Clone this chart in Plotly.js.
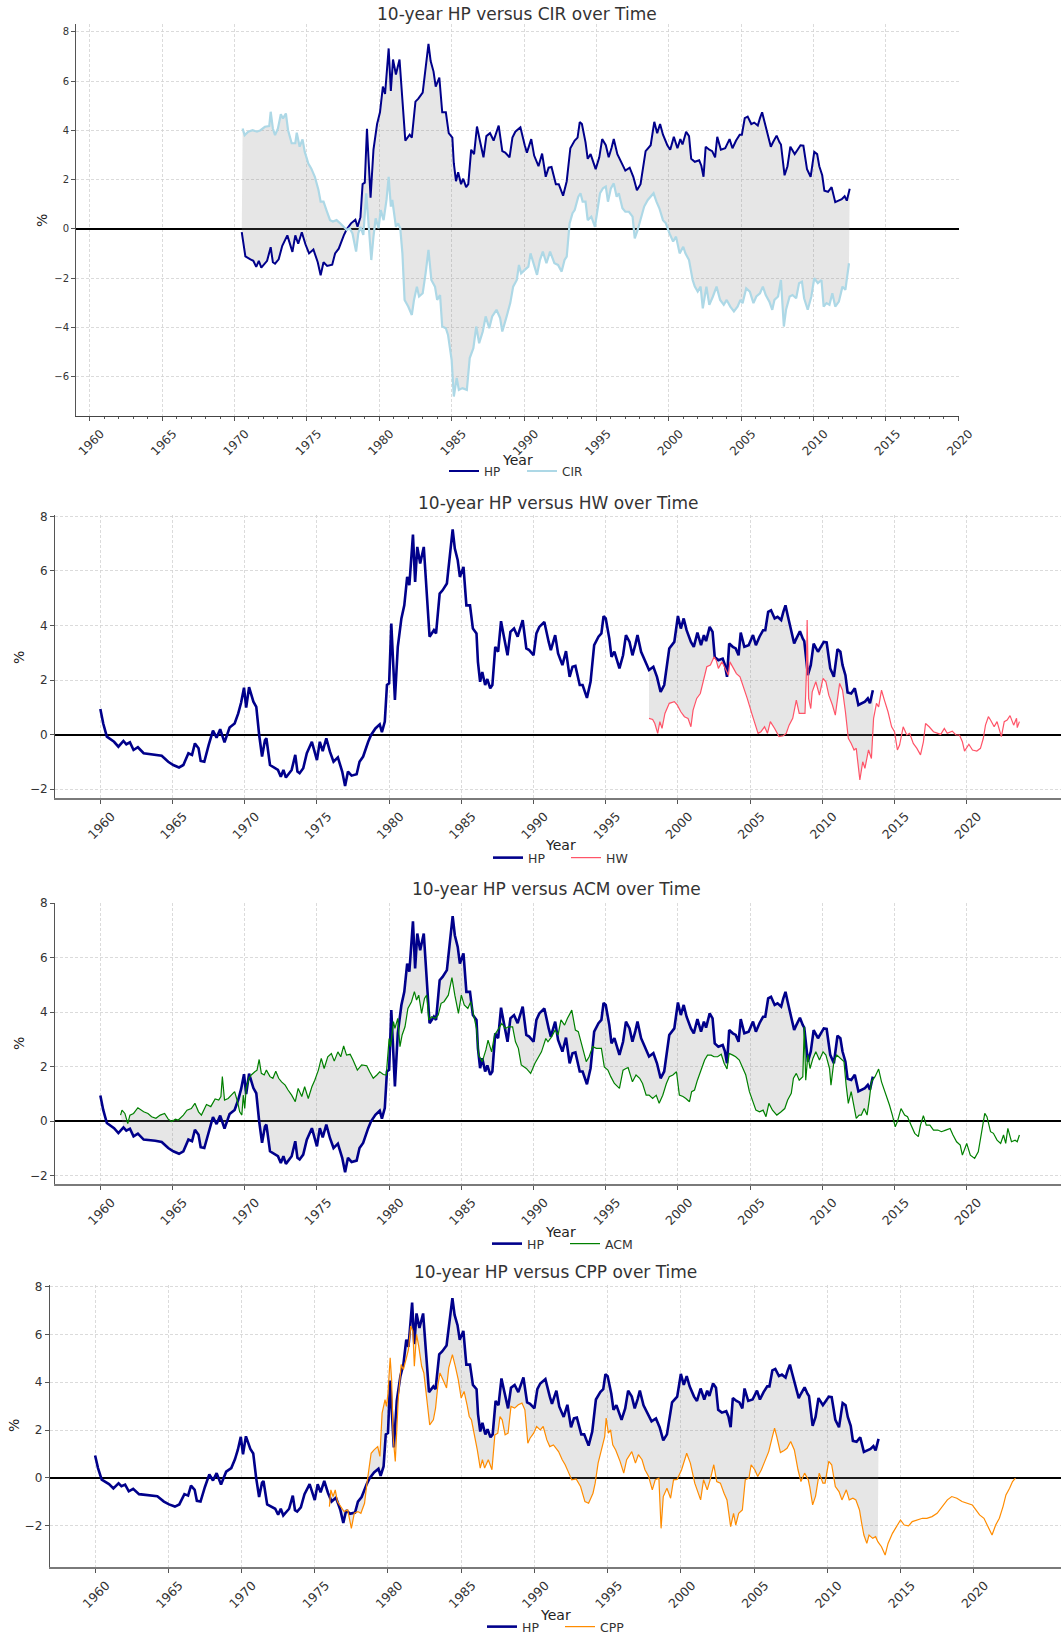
<!DOCTYPE html>
<html><head><meta charset="utf-8">
<script src="https://cdn.plot.ly/plotly-3.0.1.min.js"></script>
<style>html,body{margin:0;padding:0;background:#fff;overflow:hidden}#chart{width:1061px;height:1633px}</style>
</head><body><div id="chart"></div>
<script>
// ---------------- DATA ----------------
const hpYear = [1960.0,1960.2,1960.45,1960.7,1960.95,1961.25,1961.6,1961.8,1962.05,1962.3,1962.6,1963.0,1963.8,1964.25,1964.7,1965.05,1965.45,1965.75,1966.1,1966.35,1966.55,1966.8,1966.95,1967.2,1967.5,1967.8,1968.05,1968.3,1968.6,1968.95,1969.3,1969.55,1969.75,1969.95,1970.1,1970.3,1970.6,1970.8,1971.0,1971.2,1971.4,1971.5,1971.75,1972.1,1972.3,1972.5,1972.68,1972.85,1973.25,1973.5,1973.65,1973.8,1974.05,1974.3,1974.65,1975.0,1975.2,1975.4,1975.65,1975.9,1976.15,1976.45,1976.75,1976.95,1977.15,1977.4,1977.75,1977.95,1978.2,1978.55,1978.75,1979.05,1979.35,1979.5,1979.7,1979.85,1980.0,1980.15,1980.3,1980.4,1980.6,1980.85,1981.05,1981.25,1981.4,1981.65,1981.8,1981.95,1982.15,1982.4,1982.6,1982.8,1983.1,1983.25,1983.5,1983.7,1984.0,1984.2,1984.4,1984.55,1984.75,1984.9,1985.15,1985.35,1985.6,1985.8,1986.05,1986.15,1986.3,1986.45,1986.65,1986.8,1987.0,1987.15,1987.35,1987.55,1987.75,1987.95,1988.2,1988.4,1988.65,1988.9,1989.25,1989.5,1989.7,1990.0,1990.2,1990.4,1990.75,1991.05,1991.2,1991.5,1991.7,1992.0,1992.25,1992.5,1992.7,1992.9,1993.2,1993.4,1993.7,1993.95,1994.2,1994.5,1994.7,1994.85,1995.0,1995.25,1995.4,1995.6,1995.95,1996.2,1996.4,1996.65,1996.85,1997.05,1997.2,1997.45,1997.8,1998.0,1998.3,1998.55,1998.8,1999.05,1999.4,1999.75,2000.0,2000.2,2000.4,2000.6,2000.9,2001.1,2001.35,2001.6,2001.8,2001.95,2002.2,2002.4,2002.55,2002.8,2003.1,2003.25,2003.4,2003.55,2003.8,2004.0,2004.2,2004.35,2004.6,2004.9,2005.2,2005.4,2005.65,2005.9,2006.05,2006.25,2006.45,2006.7,2006.9,2007.15,2007.3,2007.45,2007.6,2007.85,2008.05,2008.2,2008.45,2008.65,2008.75,2009.0,2009.2,2009.4,2009.7,2009.9,2010.1,2010.3,2010.55,2010.8,2011.05,2011.25,2011.4,2011.6,2011.75,2012.0,2012.25,2012.5,2012.7,2012.95,2013.15,2013.3,2013.5];
const hpValue = [0.94,0.41,-0.07,-0.17,-0.26,-0.44,-0.23,-0.35,-0.28,-0.56,-0.46,-0.68,-0.72,-0.77,-0.99,-1.11,-1.2,-1.11,-0.68,-0.74,-0.32,-0.5,-0.96,-0.99,-0.38,0.15,-0.11,0.2,-0.28,0.26,0.41,0.78,1.18,1.72,0.99,1.74,1.21,1.02,-0.01,-0.8,-0.2,-0.13,-1.11,-1.23,-1.29,-1.54,-1.29,-1.57,-1.29,-0.74,-1.35,-1.41,-1.23,-0.68,-0.26,-0.93,-0.26,-0.6,-0.13,-0.62,-0.99,-0.83,-1.35,-1.88,-1.35,-1.5,-1.45,-0.99,-0.8,-0.26,-0.01,0.23,0.38,0.09,0.48,1.82,1.88,4.07,2.55,1.27,3.22,4.26,4.74,5.78,5.48,7.33,5.6,6.88,6.27,6.88,5.23,3.59,3.83,3.71,5.17,5.29,5.54,6.45,7.52,6.82,6.39,5.78,6.15,4.74,4.74,3.89,3.71,2.67,1.94,2.3,1.82,2.04,1.7,1.82,3.22,3.04,4.16,3.59,2.91,3.77,3.89,3.59,4.2,3.16,3.1,2.91,3.71,3.95,4.13,3.4,3.1,3.65,2.98,2.55,3.06,2.12,2.49,2.52,1.82,1.82,1.35,1.94,3.28,3.59,3.71,4.34,4.26,3.52,2.85,3.04,2.43,2.91,3.65,3.4,2.91,3.3,3.65,3.04,2.57,2.37,2.49,2.12,1.57,1.82,3.16,3.4,4.35,3.89,4.26,3.83,3.4,3.22,3.74,3.28,3.65,3.43,3.95,3.77,2.85,2.73,2.79,2.57,2.12,3.34,3.22,3.16,2.91,3.74,3.22,3.28,3.65,3.28,3.59,3.83,3.83,4.5,4.56,4.26,4.32,4.2,4.5,4.74,4.38,3.77,3.34,3.52,3.79,3.52,3.43,2.18,2.55,3.34,3.04,3.22,3.4,3.38,2.43,2.12,3.13,3.04,2.55,2.18,1.55,1.51,1.7,1.09,1.15,1.21,1.33,1.15,1.63];

const cirYear = [1970.56,1970.7,1970.95,1971.25,1971.55,1971.8,1972.1,1972.4,1972.5,1972.65,1972.8,1973.0,1973.2,1973.35,1973.55,1973.7,1973.95,1974.2,1974.3,1974.5,1974.7,1974.85,1975.1,1975.3,1975.55,1975.8,1975.95,1976.15,1976.35,1976.6,1976.8,1977.05,1977.3,1977.5,1977.75,1977.95,1978.15,1978.4,1978.55,1978.7,1978.9,1979.1,1979.25,1979.45,1979.6,1979.75,1979.95,1980.1,1980.3,1980.4,1980.5,1980.65,1980.8,1980.9,1981.15,1981.3,1981.45,1981.6,1981.75,1982.0,1982.25,1982.4,1982.6,1982.75,1983.0,1983.2,1983.4,1983.6,1983.85,1984.0,1984.2,1984.35,1984.6,1984.75,1985.0,1985.15,1985.35,1985.5,1985.75,1986.05,1986.25,1986.5,1986.7,1986.9,1987.15,1987.35,1987.6,1987.8,1988.1,1988.35,1988.5,1988.8,1989.05,1989.25,1989.5,1989.65,1989.8,1990.05,1990.3,1990.45,1990.65,1990.9,1991.1,1991.3,1991.55,1991.8,1992.1,1992.35,1992.6,1992.8,1992.95,1993.15,1993.35,1993.5,1993.75,1993.9,1994.05,1994.25,1994.4,1994.65,1994.9,1995.1,1995.25,1995.45,1995.65,1995.8,1996.0,1996.2,1996.4,1996.55,1996.8,1997.0,1997.25,1997.5,1997.65,1997.85,1998.1,1998.3,1998.55,1998.8,1998.95,1999.15,1999.35,1999.6,1999.8,2000.05,2000.3,2000.5,2000.75,2001.0,2001.15,2001.4,2001.65,2001.8,2002.0,2002.2,2002.35,2002.6,2002.8,2003.05,2003.3,2003.55,2003.8,2004.0,2004.25,2004.5,2004.75,2004.95,2005.1,2005.35,2005.6,2005.85,2006.05,2006.3,2006.5,2006.7,2006.95,2007.15,2007.3,2007.55,2007.75,2007.95,2008.1,2008.35,2008.55,2008.8,2009.0,2009.2,2009.35,2009.6,2009.85,2010.05,2010.3,2010.55,2010.7,2010.9,2011.1,2011.3,2011.5,2011.75,2012.0,2012.2,2012.4,2012.45];
const cirValue = [4.08,3.81,3.95,4.01,3.95,4.01,4.15,4.18,4.76,4.08,3.81,4.08,4.66,4.49,4.69,4.01,3.48,3.48,3.91,3.34,3.64,3.14,2.66,2.46,2.12,1.58,1.11,1.11,0.77,0.36,0.3,0.36,0.23,0.09,-0.04,0.03,-0.18,-0.92,-0.18,0.09,-0.24,1.45,0.36,-1.26,-0.31,0.43,0.03,0.77,0.36,0.77,1.18,2.12,0.91,1.18,0.09,0.23,0.03,-0.99,-2.88,-3.15,-3.49,-2.88,-2.34,-2.74,-2.61,-1.8,-0.85,-2.07,-2.34,-2.88,-2.68,-3.96,-4.03,-4.3,-5.31,-6.8,-6.05,-6.53,-6.46,-6.53,-5.24,-4.84,-3.96,-4.64,-4.16,-3.55,-4.03,-3.55,-3.28,-3.62,-4.16,-3.55,-3.01,-2.34,-2.07,-1.46,-1.8,-1.66,-1.53,-0.99,-1.39,-1.86,-1.26,-0.92,-1.39,-0.92,-1.39,-1.46,-1.73,-1.26,-1.12,0.23,0.64,0.77,1.31,1.45,1.11,1.11,0.36,0.5,0.09,0.91,1.45,1.65,1.72,1.11,1.65,1.85,1.31,1.45,0.84,0.7,0.7,0.5,-0.38,-0.04,0.43,0.91,1.18,1.38,1.45,1.11,0.84,0.36,0.23,-0.18,-0.51,-0.31,-0.99,-0.72,-0.99,-1.26,-2.07,-2.34,-2.54,-2.34,-3.22,-2.34,-3.08,-2.74,-2.34,-2.88,-3.08,-2.88,-3.15,-3.35,-3.15,-2.88,-3.01,-2.41,-2.54,-3.01,-2.74,-2.61,-2.34,-2.68,-2.95,-3.28,-2.88,-2.74,-2.07,-3.96,-3.28,-2.74,-2.68,-2.81,-2.2,-2.14,-2.81,-3.28,-2.74,-2.0,-2.2,-2.07,-3.15,-3.01,-3.08,-2.61,-3.15,-2.95,-2.34,-2.47,-1.53,-1.39];

const hwYear = [1998.0,1998.25,1998.4,1998.6,1998.75,1998.9,1999.1,1999.4,1999.75,1999.95,2000.2,2000.45,2000.7,2000.9,2001.05,2001.3,2001.55,2001.8,2002.0,2002.25,2002.5,2002.65,2002.8,2003.05,2003.3,2003.5,2003.6,2003.85,2004.05,2004.3,2004.55,2004.8,2005.15,2005.4,2005.55,2005.75,2006.0,2006.2,2006.4,2006.7,2007.0,2007.3,2007.5,2007.7,2007.95,2008.2,2008.4,2008.6,2008.8,2008.9,2008.95,2009.05,2009.2,2009.3,2009.55,2009.8,2010.05,2010.25,2010.45,2010.7,2010.9,2011.2,2011.4,2011.6,2011.8,2012.0,2012.2,2012.35,2012.6,2012.8,2012.95,2013.2,2013.4,2013.55,2013.75,2013.9,2014.1,2014.3,2014.55,2014.8,2015.0,2015.2,2015.35,2015.6,2015.85,2016.05,2016.3,2016.55,2016.8,2017.0,2017.15,2017.4,2017.7,2018.0,2018.2,2018.45,2018.65,2019.0,2019.25,2019.5,2019.7,2019.85,2020.15,2020.4,2020.7,2020.95,2021.15,2021.3,2021.5,2021.65,2021.9,2022.1,2022.4,2022.6,2022.8,2023.0,2023.25,2023.45,2023.5,2023.65];
const hwValue = [0.6,0.56,0.41,0.05,0.48,0.23,0.78,1.15,1.21,1.09,0.84,0.66,0.6,0.29,0.9,1.33,1.51,2.06,2.49,2.55,2.85,2.73,2.43,2.67,2.37,2.18,2.67,2.43,2.24,2.12,1.76,1.33,0.72,0.29,0.05,0.11,0.29,0.05,0.48,0.23,-0.07,-0.04,0.05,0.35,0.6,1.27,0.78,0.78,0.78,2.3,4.2,1.33,0.96,1.57,1.94,1.45,2.06,1.94,1.45,1.09,0.72,1.88,1.63,0.84,-0.13,-0.32,-0.56,-0.5,-1.66,-0.99,-1.23,-0.56,-0.87,0.6,1.15,1.02,1.63,1.27,0.84,0.29,0.11,-0.56,-0.38,0.29,-0.01,0.05,-0.32,-0.5,-0.74,-0.26,0.41,0.29,0.11,0.05,0.01,0.23,0.05,0.13,-0.01,-0.01,-0.26,-0.6,-0.35,-0.56,-0.6,-0.5,-0.13,0.35,0.66,0.54,0.29,0.48,-0.07,0.48,0.54,0.7,0.35,0.6,0.26,0.48];

const acmYear = [1961.4,1961.5,1961.7,1961.9,1962.05,1962.3,1962.6,1963.0,1963.3,1963.55,1963.85,1964.15,1964.45,1964.7,1964.95,1965.2,1965.4,1965.75,1966.0,1966.3,1966.55,1966.8,1967.0,1967.35,1967.65,1967.95,1968.2,1968.35,1968.45,1968.6,1968.85,1969.1,1969.3,1969.5,1969.65,1969.8,1969.9,1970.0,1970.1,1970.3,1970.45,1970.7,1970.85,1971.0,1971.15,1971.35,1971.5,1971.75,1971.95,1972.15,1972.35,1972.55,1972.8,1973.0,1973.25,1973.5,1973.7,1973.95,1974.15,1974.4,1974.65,1974.85,1975.1,1975.3,1975.5,1975.75,1976.0,1976.2,1976.45,1976.65,1976.85,1977.05,1977.3,1977.5,1977.8,1978.1,1978.45,1978.65,1978.9,1979.15,1979.35,1979.6,1979.8,1980.0,1980.1,1980.3,1980.4,1980.6,1980.75,1980.9,1981.1,1981.3,1981.55,1981.75,1981.9,1982.05,1982.25,1982.45,1982.6,1982.75,1982.95,1983.2,1983.4,1983.6,1983.8,1984.1,1984.35,1984.55,1984.8,1985.0,1985.2,1985.45,1985.65,1985.9,1986.05,1986.2,1986.45,1986.7,1986.85,1987.1,1987.3,1987.6,1987.8,1988.05,1988.25,1988.55,1988.75,1988.95,1989.15,1989.5,1989.8,1990.1,1990.3,1990.55,1990.85,1991.0,1991.25,1991.5,1991.7,1991.9,1992.15,1992.35,1992.65,1992.9,1993.1,1993.4,1993.65,1993.85,1994.1,1994.35,1994.7,1994.9,1995.15,1995.35,1995.6,1995.95,1996.2,1996.4,1996.55,1996.85,1997.1,1997.35,1997.55,1997.8,1998.0,1998.25,1998.5,1998.7,1998.95,1999.2,1999.4,1999.65,1999.9,2000.1,2000.35,2000.55,2000.8,2000.95,2001.15,2001.35,2001.6,2001.85,2002.05,2002.3,2002.5,2002.75,2003.0,2003.2,2003.4,2003.55,2003.8,2004.0,2004.25,2004.5,2004.7,2004.95,2005.2,2005.4,2005.65,2005.9,2006.1,2006.3,2006.55,2006.85,2007.15,2007.4,2007.6,2007.85,2008.0,2008.2,2008.4,2008.65,2008.75,2008.85,2009.0,2009.15,2009.35,2009.55,2009.8,2010.05,2010.25,2010.5,2010.6,2010.8,2011.0,2011.25,2011.5,2011.65,2011.8,2012.0,2012.1,2012.2,2012.35,2012.55,2012.7,2012.9,2013.1,2013.25,2013.4,2013.65,2013.9,2014.1,2014.35,2014.65,2014.85,2015.05,2015.2,2015.45,2015.7,2015.9,2016.15,2016.4,2016.65,2016.8,2017.0,2017.2,2017.45,2017.7,2018.0,2018.25,2018.55,2018.85,2019.05,2019.3,2019.55,2019.7,2020.0,2020.25,2020.55,2020.8,2021.0,2021.25,2021.4,2021.65,2021.85,2022.1,2022.35,2022.55,2022.7,2022.85,2023.1,2023.35,2023.5,2023.65];
const acmValue = [0.22,0.4,0.28,-0.09,0.22,0.28,0.49,0.34,0.28,0.16,0.1,0.22,0.28,0.07,-0.02,0.07,0.04,0.22,0.4,0.46,0.65,0.34,0.22,0.61,0.53,0.81,0.77,0.9,1.63,0.77,0.83,0.95,1.08,0.71,0.34,0.22,0.95,0.46,1.2,1.57,1.69,1.81,1.87,2.26,1.75,1.69,1.87,1.63,1.57,1.83,1.57,1.44,1.32,1.14,0.95,0.71,1.2,0.9,1.26,0.83,1.26,1.5,1.87,2.3,1.93,2.36,2.48,2.2,2.54,2.36,2.76,2.42,2.45,2.24,1.87,2.06,2.03,1.81,1.57,1.69,1.81,1.71,1.69,3.03,2.73,3.65,3.4,3.77,2.73,3.16,3.46,4.13,4.38,4.75,4.44,4.62,3.95,4.5,4.62,3.71,3.83,3.77,3.89,4.32,4.38,4.62,5.26,4.62,3.95,4.62,4.26,4.13,4.38,3.77,3.4,2.42,2.18,2.61,2.97,2.54,3.16,3.4,3.58,3.4,3.46,3.46,2.91,2.67,2.06,1.93,1.75,2.12,2.3,2.54,3.03,2.91,3.09,3.34,3.16,3.71,3.52,3.77,4.07,3.34,3.28,2.67,2.18,2.36,2.73,2.67,2.67,1.99,1.87,1.63,1.38,1.2,1.87,1.93,1.96,1.44,1.69,1.57,1.38,0.95,0.95,0.83,0.95,0.65,0.95,1.38,1.63,1.69,1.81,0.95,0.9,0.83,0.71,1.08,1.14,1.5,1.87,2.24,2.42,2.42,2.36,2.36,2.45,2.12,1.91,2.48,2.42,2.36,2.24,1.93,1.69,1.08,0.65,0.4,0.34,0.4,0.16,0.65,0.4,0.22,0.34,0.46,0.77,1.02,1.57,1.75,1.5,1.63,3.46,1.5,2.42,1.93,2.3,2.54,2.24,2.54,2.42,1.93,1.32,2.18,2.42,2.3,2.18,1.32,0.65,1.08,0.83,0.59,0.1,0.22,0.22,0.46,0.22,0.77,1.44,1.63,1.91,1.44,1.08,0.59,0.22,-0.21,-0.02,0.46,0.22,0.16,-0.15,-0.45,-0.57,-0.15,0.2,-0.15,-0.15,-0.33,-0.33,-0.39,-0.33,-0.27,-0.51,-0.76,-0.88,-1.25,-0.82,-1.25,-1.37,-1.13,-0.51,0.28,0.16,-0.39,-0.45,-0.7,-0.82,-0.51,-0.82,-0.27,-0.76,-0.7,-0.76,-0.51];

const cppYear = [1976.0,1976.1,1976.25,1976.4,1976.55,1976.8,1977.0,1977.25,1977.5,1977.7,1977.95,1978.15,1978.4,1978.55,1978.7,1978.85,1979.05,1979.3,1979.45,1979.6,1979.8,1979.9,1980.0,1980.15,1980.25,1980.35,1980.5,1980.6,1980.7,1980.9,1981.05,1981.2,1981.4,1981.55,1981.7,1981.8,1981.95,1982.1,1982.3,1982.45,1982.6,1982.75,1982.85,1983.1,1983.25,1983.4,1983.55,1983.8,1984.0,1984.15,1984.4,1984.6,1984.8,1985.0,1985.2,1985.4,1985.55,1985.7,1985.95,1986.1,1986.3,1986.45,1986.6,1986.85,1987.1,1987.3,1987.5,1987.65,1987.8,1988.0,1988.2,1988.4,1988.65,1988.9,1989.15,1989.35,1989.55,1989.7,1989.95,1990.15,1990.4,1990.6,1990.85,1991.05,1991.3,1991.65,1991.9,1992.1,1992.35,1992.55,1992.85,1993.15,1993.45,1993.7,1994.0,1994.15,1994.35,1994.6,1994.8,1994.9,1995.05,1995.2,1995.35,1995.55,1995.85,1996.1,1996.3,1996.65,1996.9,1997.1,1997.35,1997.55,1997.8,1998.05,1998.25,1998.5,1998.65,1998.8,1999.05,1999.3,1999.5,1999.75,2000.05,2000.4,2000.65,2000.95,2001.35,2001.55,2001.8,2002.0,2002.25,2002.45,2002.7,2002.95,2003.15,2003.4,2003.6,2003.75,2003.95,2004.2,2004.4,2004.65,2004.8,2005.05,2005.25,2005.5,2005.75,2006.0,2006.25,2006.4,2006.55,2006.8,2007.05,2007.25,2007.5,2007.75,2008.0,2008.2,2008.45,2008.7,2008.8,2009.0,2009.2,2009.45,2009.7,2009.85,2010.1,2010.3,2010.55,2010.8,2011.0,2011.3,2011.5,2011.75,2011.95,2012.2,2012.35,2012.5,2012.7,2012.85,2013.1,2013.3,2013.45,2013.7,2013.95,2014.15,2014.45,2014.75,2015.0,2015.25,2015.55,2015.8,2016.15,2016.5,2016.8,2017.15,2017.5,2017.85,2018.2,2018.5,2018.85,2019.2,2019.55,2019.9,2020.15,2020.4,2020.7,2020.95,2021.25,2021.5,2021.75,2022.0,2022.2,2022.45,2022.65,2022.85];
const cppValue = [-1.2,-0.5,-0.78,-0.5,-0.99,-1.2,-1.41,-1.34,-2.11,-1.48,-1.41,-1.48,-1.06,-0.29,0.34,1.03,1.17,1.31,0.9,2.71,3.27,2.99,3.55,5.02,4.11,1.73,0.69,2.43,3.27,4.74,4.53,4.88,5.37,6.35,6.14,4.67,6.0,5.51,4.67,4.39,3.55,2.57,2.22,2.43,2.92,3.83,4.39,4.04,3.76,4.6,5.16,4.67,4.11,3.34,3.62,3.06,2.57,2.43,1.66,1.17,0.41,0.76,0.41,0.76,0.34,1.8,1.87,2.57,2.43,1.8,1.87,2.99,2.92,3.06,3.13,2.85,1.45,1.66,1.87,2.15,2.01,2.15,1.59,1.31,1.38,1.1,0.76,0.55,0.2,-0.08,-0.04,-0.36,-0.99,-1.06,-0.64,-0.22,0.62,1.31,1.73,2.5,1.87,2.01,1.38,1.17,0.69,0.2,0.76,1.1,0.62,0.97,0.76,0.34,0.06,-0.5,-0.08,-0.01,-2.11,-0.78,-0.43,-0.85,-0.08,-0.06,0.34,1.03,0.62,-0.22,-0.92,-0.08,-0.5,-0.08,0.55,-0.15,-0.22,-0.64,-0.92,-2.04,-1.48,-1.97,-1.48,-1.34,-0.08,-0.01,0.55,0.34,0.06,0.34,0.69,1.1,1.73,2.08,1.73,1.06,1.15,1.24,1.52,1.17,0.34,-0.15,0.2,-0.08,-0.36,-1.13,-0.76,0.2,-0.22,-0.22,0.69,0.55,-0.36,-0.57,-0.92,-0.5,-0.92,-0.85,-0.92,-1.34,-1.9,-2.39,-2.74,-2.39,-2.53,-2.46,-2.67,-2.88,-3.23,-2.74,-2.32,-2.04,-1.76,-1.97,-2.01,-1.83,-1.76,-1.69,-1.69,-1.62,-1.48,-1.2,-0.92,-0.78,-0.85,-0.99,-1.06,-1.13,-1.34,-1.55,-1.69,-2.04,-2.39,-1.97,-1.69,-1.2,-0.71,-0.43,-0.15,-0.01];

const xTickYears = [1960,1965,1970,1975,1980,1985,1990,1995,2000,2005,2010,2015,2020];
const cirLagYears = -1;   // HP is plotted one year earlier in the CIR panel

// ---------------- LAYOUT / STYLE ----------------
const W = 1061, H = 1633;
const FONT = 'DejaVu Sans, Liberation Sans, Arial, sans-serif';
const HP_COLOR = '#00008b';
const FILL = 'rgba(128,128,128,0.2)';
const GRID = '#d2d2d2';

const panels = [
  {name:'CIR', year:cirYear, val:cirValue, color:'#add8e6', width:2.2, hpWidth:2.0, hpShift:cirLagYears, clip:true,
   box:[76,24.3,959,415.7], xr:[1959.05,2020.05], yr:[-7.58,8.31], yt:[-6,-4,-2,0,2,4,6,8], yfs:10, xfs:12, minor:true,
   standoff:1, legFs:12, titleXY:[517,13.5], yearXY:[517,460], pctXY:[42,221], legXY:[522,471]},
  {name:'HW', year:hwYear, val:hwValue, color:'#ff5468', width:1.2, hpWidth:2.6, hpShift:0, clip:false,
   box:[55,515,1061,798.3], xr:[1956.86,2026.53], yr:[-2.33,8.05], yt:[-2,0,2,4,6,8], yfs:12, xfs:12.5, minor:false,
   standoff:0, legFs:12.5, titleXY:[558,503], yearXY:[560,845], pctXY:[19,658], legXY:[566,858]},
  {name:'ACM', year:acmYear, val:acmValue, color:'#008000', width:1.2, hpWidth:2.6, hpShift:0, clip:false,
   box:[55,902.5,1061,1184.3], xr:[1956.86,2026.53], yr:[-2.32,8.02], yt:[-2,0,2,4,6,8], yfs:12, xfs:12.5, minor:false,
   standoff:0, legFs:12.5, titleXY:[556,889], yearXY:[560,1232], pctXY:[19,1044], legXY:[565,1244]},
  {name:'CPP', year:cppYear, val:cppValue, color:'#ff8c00', width:1.2, hpWidth:2.6, hpShift:0, clip:false,
   box:[49.7,1285,1061,1567.3], xr:[1956.9,2025.96], yr:[-3.74,8.07], yt:[-2,0,2,4,6,8], yfs:12, xfs:12.5, minor:false,
   standoff:0, legFs:12.5, titleXY:[555,1272], yearXY:[555,1615], pctXY:[14,1426], legXY:[560,1627]}
];

function subset(xs, ys, a, b) {
  const X = [], Y = [];
  for (let i = 0; i < xs.length; i++) {
    if (xs[i] >= a - 0.06 && xs[i] <= b + 0.06) { X.push(xs[i]); Y.push(ys[i]); }
  }
  return [X, Y];
}
const minusFmt = v => v < 0 ? '\u2212' + Math.abs(v) : String(v);

const traces = [];
const layout = {
  width: W, height: H, margin: {l:0, r:0, t:0, b:0, autoexpand: false},
  paper_bgcolor: '#fff', plot_bgcolor: '#fff',
  font: {family: FONT, color: '#333'},
  showlegend: true, annotations: []
};

panels.forEach((p, i) => {
  const s = i === 0 ? '' : String(i + 1);
  const xa = 'x' + s, ya = 'y' + s, lg = 'legend' + s;

  let hpX = hpYear.map(y => y + p.hpShift), hpY = hpValue.slice();
  const oStart = p.year[0], oEnd = p.year[p.year.length - 1];
  if (p.clip) { [hpX, hpY] = subset(hpX, hpY, oStart, oEnd); }
  const a = Math.max(hpX[0], oStart), b = Math.min(hpX[hpX.length - 1], oEnd);
  const [fhx, fhy] = subset(hpX, hpY, a, b);
  const [fox, foy] = subset(p.year, p.val, a, b);

  traces.push({x: fhx, y: fhy, xaxis: xa, yaxis: ya, mode: 'lines', line: {width: 0, color: 'rgba(0,0,0,0)'},
               showlegend: false, hoverinfo: 'skip', legend: lg});
  traces.push({x: fox, y: foy, xaxis: xa, yaxis: ya, mode: 'lines', line: {width: 0, color: 'rgba(0,0,0,0)'},
               fill: 'tonexty', fillcolor: FILL, showlegend: false, hoverinfo: 'skip', legend: lg});
  traces.push({x: hpX, y: hpY, xaxis: xa, yaxis: ya, mode: 'lines', name: 'HP',
               line: {color: HP_COLOR, width: p.hpWidth}, legend: lg});
  traces.push({x: p.year, y: p.val, xaxis: xa, yaxis: ya, mode: 'lines', name: p.name,
               line: {color: p.color, width: p.width}, legend: lg});

  const [x0, y0, x1, y1] = p.box;
  const xaxis = {
    domain: [x0 / W, x1 / W], range: p.xr, anchor: ya,
    tickmode: 'array', tickvals: xTickYears, ticktext: xTickYears.map(String),
    tickangle: -45, tickfont: {size: p.xfs, color: '#333', family: FONT},
    ticks: 'outside', ticklen: 4, tickwidth: 1, tickcolor: '#555',
    ticklabelshift: 11, ticklabelstandoff: p.standoff,
    showline: true, linecolor: i === 0 ? '#444' : '#7a7a7a', linewidth: i === 0 ? 1.3 : 2,
    showgrid: true, gridcolor: GRID, gridwidth: 0.8, griddash: '3px,2px',
    zeroline: false, fixedrange: true, automargin: false
  };
  if (p.minor) {
    const mv = [];
    for (let y = Math.ceil(p.xr[0]); y <= Math.floor(p.xr[1]); y++) mv.push(y);
    xaxis.minor = {tickmode: 'array', tickvals: mv, ticks: 'outside', ticklen: 2, tickcolor: '#555', showgrid: false};
  }
  const yaxis = {
    domain: [1 - y1 / H, 1 - y0 / H], range: p.yr, anchor: xa,
    tickmode: 'array', tickvals: p.yt, ticktext: p.yt.map(minusFmt),
    tickfont: {size: p.yfs, color: '#333', family: FONT},
    ticks: 'outside', ticklen: 4, tickwidth: 1, tickcolor: '#555',
    showline: true, linecolor: '#555', linewidth: 1,
    showgrid: true, gridcolor: GRID, gridwidth: 0.8, griddash: '3px,2px',
    zeroline: true, zerolinecolor: '#000', zerolinewidth: 2, fixedrange: true, automargin: false
  };
  layout['xaxis' + s] = xaxis;
  layout['yaxis' + s] = yaxis;

  layout[lg] = {
    x: p.legXY[0] / W, y: 1 - p.legXY[1] / H, xanchor: 'center', yanchor: 'middle',
    orientation: 'h', traceorder: 'normal', font: {family: FONT, size: p.legFs, color: '#333'},
    bgcolor: 'rgba(0,0,0,0)', borderwidth: 0, itemwidth: 30,
    entrywidthmode: 'pixels', entrywidth: 33
  };

  layout.annotations.push({text: '10-year HP versus ' + p.name + ' over Time', xref: 'paper', yref: 'paper',
    x: p.titleXY[0] / W, y: 1 - p.titleXY[1] / H, xanchor: 'center', yanchor: 'middle', showarrow: false,
    font: {family: FONT, size: 17, color: '#333'}});
  layout.annotations.push({text: 'Year', xref: 'paper', yref: 'paper',
    x: p.yearXY[0] / W, y: 1 - p.yearXY[1] / H, xanchor: 'center', yanchor: 'middle', showarrow: false,
    font: {family: FONT, size: 14, color: '#222'}});
  layout.annotations.push({text: '%', xref: 'paper', yref: 'paper', textangle: -90,
    x: p.pctXY[0] / W, y: 1 - p.pctXY[1] / H, xanchor: 'center', yanchor: 'middle', showarrow: false,
    font: {family: FONT, size: 14, color: '#222'}});
});

Plotly.newPlot('chart', traces, layout, {displayModeBar: false, staticPlot: true});
</script>
</body></html>
